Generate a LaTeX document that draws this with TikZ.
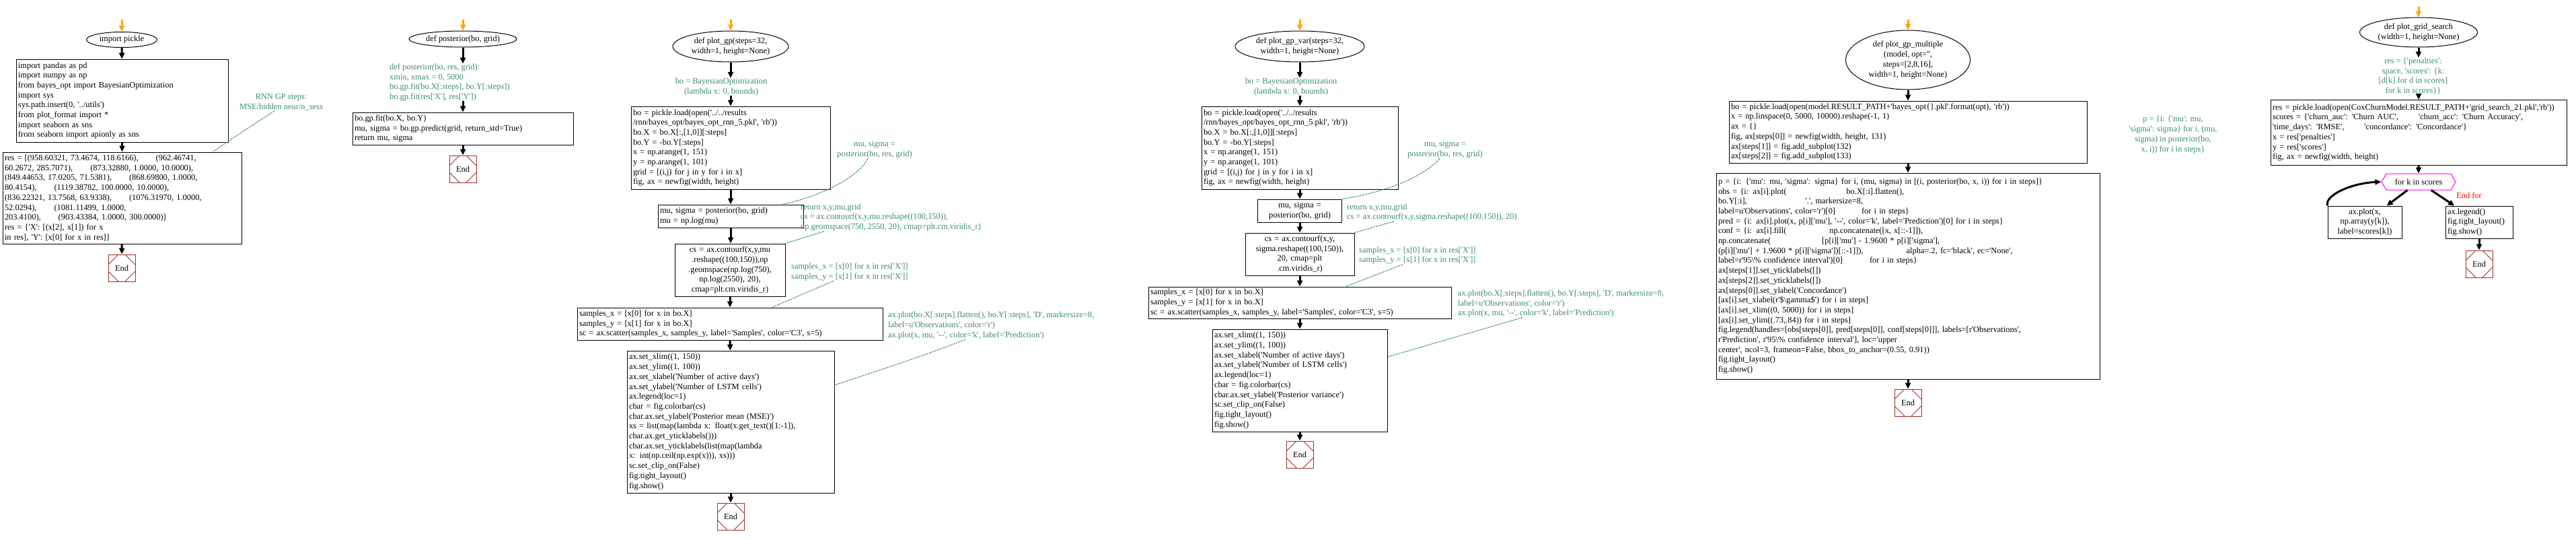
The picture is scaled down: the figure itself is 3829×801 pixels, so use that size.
\documentclass[tikz,border=0pt]{standalone}
\usepackage{fontspec}
\newfontfamily\codefont{Liberation Serif}
\usetikzlibrary{shapes.geometric,shapes.symbols,arrows.meta}
\definecolor{cgreen}{HTML}{3C8C6E}
\definecolor{orangec}{HTML}{FFA500}
\definecolor{endred}{HTML}{A52A2A}
\definecolor{loopc}{HTML}{FF00FF}
\AtBeginDocument{\catcode`\_=12 }
\tikzset{
 base/.style={font=\codefont\fontsize{12.4pt}{14.7pt}\selectfont, inner sep=0pt},
 box/.style={base, draw, line width=1pt, inner xsep=3pt, align=left},
 cbox/.style={base, draw, line width=1pt, inner xsep=3pt, align=center},
 oval/.style={base, draw, ellipse, line width=1pt, align=center},
 note/.style={base, text=cgreen, align=left, anchor=west},
 cnote/.style={base, text=cgreen, align=center},
 flow/.style={line width=3pt, -{Triangle[length=9pt,width=8pt]}},
 start/.style={flow, draw=orangec},
 link/.style={draw=cgreen, line width=1pt, dash pattern=on 3pt off 1.2pt},
 endbox/.style={base, draw=endred, line width=1pt, minimum width=40pt, minimum height=40pt,
  path picture={
   \draw[endred, line width=0.8pt]
    ([yshift=-15pt]path picture bounding box.north west) -- ([xshift=15pt]path picture bounding box.north west)
    ([xshift=-15pt]path picture bounding box.north east) -- ([yshift=-15pt]path picture bounding box.north east)
    ([yshift=15pt]path picture bounding box.south east) -- ([xshift=-15pt]path picture bounding box.south east)
    ([xshift=15pt]path picture bounding box.south west) -- ([yshift=15pt]path picture bounding box.south west);
  }},
 loopnode/.style={base, draw=loopc, line width=1pt, signal, signal to=east and west, signal pointer angle=120, inner xsep=2pt},
}
\begin{document}
\begin{tikzpicture}[x=1pt,y=-1pt]
\useasboundingbox[fill=white] (0,0) rectangle (3829,801);

% ---------------- column 1
\coordinate (s1) at (181,29);
\node[oval, minimum width=105pt, minimum height=23pt] (e1) at (181,59) {import pickle};
\node[box, text width=309pt, minimum height=123pt] (b1a) at (181.5,149.5) {import pandas as pd\\import numpy as np\\from bayes_opt import BayesianOptimization\\import sys\\sys.path.insert(0, '../utils')\\from plot_format import *\\import seaborn as sns\\from seaborn import apionly as sns};
\node[box, text width=349pt, minimum height=136pt] (b1b) at (181.5,294) {res = [(958.60321, 73.4674, 118.6166),\hspace*{26pt}(962.46741,\\60.2672, 285.7071),\hspace*{26pt}(873.32880, 1.0000, 10.0000),\\(849.44653, 17.0205, 71.5381),\hspace*{26pt}(868.69800, 1.0000,\\80.4154),\hspace*{26pt}(1119.38782, 100.0000, 10.0000),\\(836.22321, 13.7568, 63.9338),\hspace*{26pt}(1076.31970, 1.0000,\\52.0294),\hspace*{26pt}(1081.11499, 1.0000,\\203.4100),\hspace*{26pt}(903.43384, 1.0000, 300.0000)]\\res = \{'X': [(x[2], x[1]) for x\\in res], 'Y': [x[0] for x in res]\}};
\node[endbox] (end1) at (181,398) {End};
\node[cnote] (n1) at (418,152) {RNN GP steps:\\MSE/hidden neur/n_sess};
\draw[start] (s1) -- (e1.north);
\draw[flow] (e1) -- (b1a);
\draw[flow] (b1a) -- (b1b);
\draw[flow] (b1b) -- (end1);
\draw[link] ([xshift=-10pt]n1.south) .. controls (385,180) and (345,205) .. ([xshift=-43pt]b1b.north east);

% ---------------- column 2
\coordinate (s2) at (688,29);
\node[oval, minimum width=160pt, minimum height=24pt] (e2) at (688,58) {def posterior(bo, grid)};
\node[note] (L2) at (579,122.5) {def posterior(bo, res, grid):\\xmin, xmax = 0, 5000\\bo.gp.fit(bo.X[:steps], bo.Y[:steps])\\bo.gp.fit(res['X'], res['Y'])};
\node[box, text width=322pt, minimum height=48pt] (b2) at (688,191) {bo.gp.fit(bo.X, bo.Y)\\mu, sigma = bo.gp.predict(grid, return_std=True)\\return mu, sigma};
\node[endbox] (end2) at (688,251) {End};
\draw[start] (s2) -- (e2.north);
\draw[flow] (e2.south) -- (e2.south |- L2.north);
\draw[flow] (b2.north |- L2.south) -- (b2.north);
\draw[flow] (b2) -- (end2);

% ---------------- column 3
\coordinate (s3) at (1086,29);
\node[oval, minimum width=172pt, minimum height=46pt] (e3) at (1086,69) {def plot_gp(steps=32,\\width=1, height=None)};
\node[cnote] (L3) at (1072,129) {bo = BayesianOptimization\\(lambda x: 0, bounds)};
\node[box, text width=290pt, minimum height=123pt] (b3a) at (1086,219.5) {bo = pickle.load(open('../../results\\/rnn/bayes_opt/bayes_opt_rnn_5.pkl', 'rb'))\\bo.X = bo.X[:,[1,0]][:steps]\\bo.Y = -bo.Y[:steps]\\x = np.arange(1, 151)\\y = np.arange(1, 101)\\grid = [(i,j) for j in y for i in x]\\fig, ax = newfig(width, height)};
\node[box, text width=210pt, minimum height=34pt] (b3b) at (1086,321) {mu, sigma = posterior(bo, grid)\\mu = np.log(mu)};
\node[cbox, text width=158pt, minimum height=78pt] (b3c) at (1085,401) {cs = ax.contourf(x,y,mu\\.reshape((100,150)),np\\.geomspace(np.log(750),\\np.log(2550), 20),\\cmap=plt.cm.viridis_r)};
\node[box, text width=448pt, minimum height=48pt] (b3d) at (1085,481) {samples_x = [x[0] for x in bo.X]\\samples_y = [x[1] for x in bo.X]\\sc = ax.scatter(samples_x, samples_y, label='Samples', color='C3', s=5)};
\node[box, text width=302pt, minimum height=211pt] (b3e) at (1086,626.5) {ax.set_xlim((1, 150))\\ax.set_ylim((1, 100))\\ax.set_xlabel('Number of active days')\\ax.set_ylabel('Number of LSTM cells')\\ax.legend(loc=1)\\cbar = fig.colorbar(cs)\\cbar.ax.set_ylabel('Posterior mean (MSE)')\\xs = list(map(lambda x: float(x.get_text()[1:-1]),\\cbar.ax.get_yticklabels()))\\cbar.ax.set_yticklabels(list(map(lambda\\x: int(np.ceil(np.exp(x))), xs)))\\sc.set_clip_on(False)\\fig.tight_layout()\\fig.show()};
\node[endbox] (end3) at (1086,767) {End};
\node[cnote] (n3a) at (1300,222.5) {mu, sigma =\\posterior(bo, res, grid)};
\node[note] (n3b) at (1190,323) {return x,y,mu,grid\\cs = ax.contourf(x,y,mu.reshape((100,150)),\\np.geomspace(750, 2550, 20), cmap=plt.cm.viridis_r)};
\node[note] (n3c) at (1176,404) {samples_x = [x[0] for x in res['X']]\\samples_y = [x[1] for x in res['X']]};
\node[note] (n3d) at (1320,483.5) {ax.plot(bo.X[:steps].flatten(), bo.Y[:steps], 'D', markersize=8,\\label=u'Observations', color='r')\\ax.plot(x, mu, '--', color='k', label='Prediction')};
\draw[start] (s3) -- (e3.north);
\draw[flow] (e3.south) -- (e3.south |- L3.north);
\draw[flow] (b3a.north |- L3.south) -- (b3a.north);
\draw[flow] (b3a) -- (b3b);
\draw[flow] (b3b) -- (b3b |- b3c.north);
\draw[flow] (b3c.south -| b3d.north) -- (b3d.north);
\draw[flow] (b3d) -- (b3e);
\draw[flow] (b3e) -- (end3);
\draw[link] ([xshift=-10pt]n3a.south) .. controls (1275,265) and (1215,293) .. ([xshift=-32pt]b3b.north east);
\draw[link] ([xshift=35pt]n3b.south west) -- (b3c.north east);
\draw[link] ([xshift=63pt]n3c.south west) -- ([xshift=-165pt]b3d.north east);
\draw[link] ([xshift=115pt]n3d.south west) .. controls (1370,530) and (1300,552) .. ([yshift=54.5pt]b3e.east);

% ---------------- column 4
\coordinate (s4) at (1932,29);
\node[oval, minimum width=192pt, minimum height=46pt] (e4) at (1932,69) {def plot_gp_var(steps=32,\\width=1, height=None)};
\node[cnote] (L4) at (1919,129) {bo = BayesianOptimization\\(lambda x: 0, bounds)};
\node[box, text width=286pt, minimum height=123pt] (b4a) at (1932,219.5) {bo = pickle.load(open('../../results\\/rnn/bayes_opt/bayes_opt_rnn_5.pkl', 'rb'))\\bo.X = bo.X[:,[1,0]][:steps]\\bo.Y = -bo.Y[:steps]\\x = np.arange(1, 151)\\y = np.arange(1, 101)\\grid = [(i,j) for j in y for i in x]\\fig, ax = newfig(width, height)};
\node[cbox, text width=119pt, minimum height=34pt] (b4b) at (1932,313) {mu, sigma =\\posterior(bo, grid)};
\node[cbox, text width=156pt, minimum height=63pt] (b4c) at (1932,377.5) {cs = ax.contourf(x,y,\\sigma.reshape((100,150)),\\20, cmap=plt\\.cm.viridis_r)};
\node[box, text width=444pt, minimum height=47pt] (b4d) at (1932,449.5) {samples_x = [x[0] for x in bo.X]\\samples_y = [x[1] for x in bo.X]\\sc = ax.scatter(samples_x, samples_y, label='Samples', color='C3', s=5)};
\node[box, text width=254pt, minimum height=152pt] (b4e) at (1932,565) {ax.set_xlim((1, 150))\\ax.set_ylim((1, 100))\\ax.set_xlabel('Number of active days')\\ax.set_ylabel('Number of LSTM cells')\\ax.legend(loc=1)\\cbar = fig.colorbar(cs)\\cbar.ax.set_ylabel('Posterior variance')\\sc.set_clip_on(False)\\fig.tight_layout()\\fig.show()};
\node[endbox] (end4) at (1932,675) {End};
\node[cnote] (n4a) at (2148,222.5) {mu, sigma =\\posterior(bo, res, grid)};
\node[note] (n4b) at (2002,315.5) {return x,y,mu,grid\\cs = ax.contourf(x,y,sigma.reshape((100,150)), 20)};
\node[note] (n4c) at (2020,379.5) {samples_x = [x[0] for x in res['X']]\\samples_y = [x[1] for x in res['X']]};
\node[note] (n4d) at (2167,451) {ax.plot(bo.X[:steps].flatten(), bo.Y[:steps], 'D', markersize=8,\\label=u'Observations', color='r')\\ax.plot(x, mu, '--', color='k', label='Prediction')};
\draw[start] (s4) -- (e4.north);
\draw[flow] (e4.south) -- (e4.south |- L4.north);
\draw[flow] (b4a.north |- L4.south) -- (b4a.north);
\draw[flow] (b4a) -- (b4b);
\draw[flow] (b4b) -- (b4c);
\draw[flow] (b4c) -- (b4d);
\draw[flow] (b4d) -- (b4e);
\draw[flow] (b4e) -- (end4);
\draw[link] ([xshift=-8pt]n4a.south) .. controls (2120,258) and (2070,284) .. (b4b.north east);
\draw[link] ([xshift=70pt]n4b.south west) -- (b4c.north east);
\draw[link] ([xshift=65pt]n4c.south west) -- ([xshift=-157pt]b4d.north east);
\draw[link] ([xshift=96pt]n4d.south west) -- ([yshift=35pt]b4e.east);

% ---------------- column 5
\coordinate (s5) at (2836,29);
\node[oval, minimum width=185pt, minimum height=88pt] (e5) at (2836,89) {def plot_gp_multiple\\(model, opt='',\\steps=[2,8,16],\\width=1, height=None)};
\node[box, text width=526pt, minimum height=92pt] (b5a) at (2836,196) {bo = pickle.load(open(model.RESULT_PATH+'bayes_opt\{\}.pkl'.format(opt), 'rb'))\\x = np.linspace(0, 5000, 10000).reshape(-1, 1)\\ax = \{\}\\fig, ax[steps[0]] = newfig(width, height, 131)\\ax[steps[1]] = fig.add_subplot(132)\\ax[steps[2]] = fig.add_subplot(133)};
\node[box, text width=564pt, minimum height=306pt] (b5b) at (2836,410) {p = \{i: \{'mu': mu, 'sigma': sigma\} for i, (mu, sigma) in [(i, posterior(bo, x, i)) for i in steps]\}\\obs = \{i: ax[i].plot(\hspace*{89pt}bo.X[:i].flatten(),\\bo.Y[:i],\hspace*{87pt}'.', markersize=8,\\label=u'Observations', color='r')[0]\hspace*{39pt}for i in steps\}\\pred = \{i: ax[i].plot(x, p[i]['mu'], '--', color='k', label='Prediction')[0] for i in steps\}\\conf = \{i: ax[i].fill(\hspace*{64pt}np.concatenate([x, x[::-1]]),\\np.concatenate(\hspace*{76pt}[p[i]['mu'] - 1.9600 * p[i]['sigma'],\\(p[i]['mu'] + 1.9600 * p[i]['sigma'])[::-1]]),\hspace*{64pt}alpha=.2, fc='black', ec='None',\\label=r'95\textbackslash\% confidence interval')[0]\hspace*{40pt}for i in steps\}\\ax[steps[1]].set_yticklabels([])\\ax[steps[2]].set_yticklabels([])\\ax[steps[0]].set_ylabel('Concordance')\\{}[ax[i].set_xlabel(r'\$\textbackslash gamma\$') for i in steps]\\{}[ax[i].set_xlim((0, 5000)) for i in steps]\\{}[ax[i].set_ylim((.73,.84)) for i in steps]\\fig.legend(handles=[obs[steps[0]], pred[steps[0]], conf[steps[0]]], labels=[r'Observations',\\r'Prediction', r'95\textbackslash\% confidence interval'], loc='upper\\center', ncol=3, frameon=False, bbox_to_anchor=(0.55, 0.91))\\fig.tight_layout()\\fig.show()};
\node[endbox] (end5) at (2836,598) {End};
\node[cnote] (n5) at (3230,200) {p = \{i: \{'mu': mu,\\'sigma': sigma\} for i, (mu,\\sigma) in posterior(bo,\\x, i)) for i in steps\}};
\draw[start] (s5) -- (e5.north);
\draw[flow] (e5) -- (b5a);
\draw[flow] (b5a) -- (b5b);
\draw[flow] (b5b) -- (end5);

% ---------------- column 6
\coordinate (s6) at (3595,10);
\node[oval, minimum width=175pt, minimum height=44pt] (e6) at (3595,48) {def plot_grid_search\\(width=1, height=None)};
\node[cnote] (L6) at (3587,113) {res = \{'penalties':\\space, 'scores': \{k:\\{}[d[k] for d in scores]\\for k in scores\}\}};
\node[box, text width=434pt, minimum height=97pt] (b6) at (3595,197) {res = pickle.load(open(CoxChurnModel.RESULT_PATH+'grid_search_21.pkl','rb'))\\scores = \{'churn_auc': 'Churn AUC',\hspace*{30pt}'churn_acc': 'Churn Accuracy',\\'time_days': 'RMSE',\hspace*{30pt}'concordance': 'Concordance'\}\\x = res['penalties']\\y = res['scores']\\fig, ax = newfig(width, height)};
\node[loopnode, minimum width=110pt, minimum height=24pt] (h6) at (3595,270) {for k in scores};
\node[cbox, text width=104pt, minimum height=48pt] (b6l) at (3515,330) {ax.plot(x,\\np.array(y[k]),\\label=scores[k])};
\node[box, text width=94pt, minimum height=48pt] (b6r) at (3685,330) {ax.legend()\\fig.tight_layout()\\fig.show()};
\node[endbox] (end6) at (3685,392) {End};
\node[base, text=red] (ef) at (3670,290) {End for};
\draw[start] (s6) -- (e6.north);
\draw[flow] (e6.south) -- (e6.south |- L6.north);
\draw[flow] (b6.north |- L6.south) -- (b6.north);
\draw[flow] (b6) -- (h6);
\draw[flow] (h6) -- (b6l);
\draw[flow] (b6l.north west) .. controls (3455,290) and (3495,272) .. (h6.west);
\draw[flow] (h6) -- (b6r);
\draw[flow] (b6r) -- (end6);
\end{tikzpicture}
\end{document}
